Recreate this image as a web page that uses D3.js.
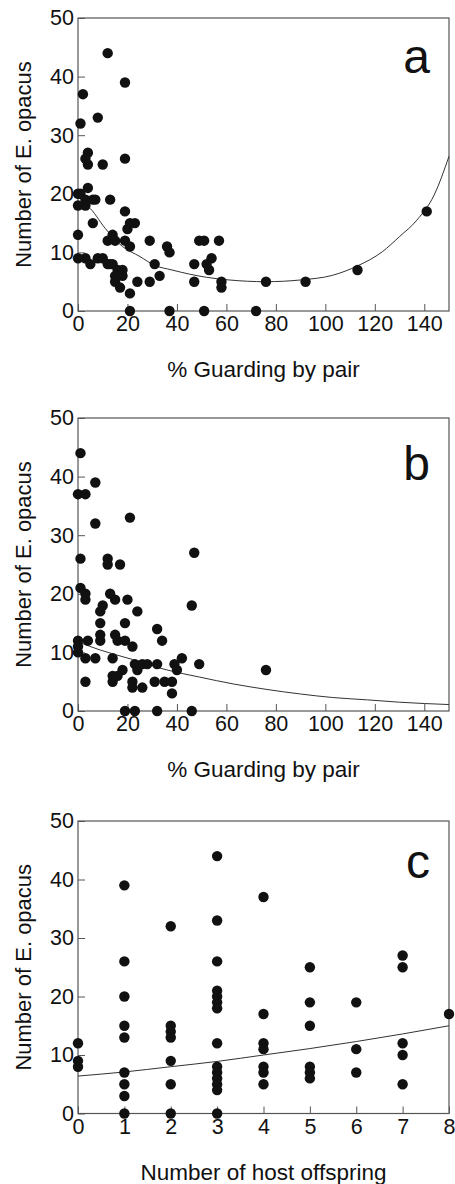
<!DOCTYPE html>
<html>
<head>
<meta charset="utf-8">
<script src="https://cdn.jsdelivr.net/npm/d3@7"></script>
<style>
  body { margin: 0; background: #fff; }
  svg text { font-family: "Liberation Sans", Arial, sans-serif; fill: #111; }
</style>
</head>
<body>
<svg width="455" height="1184"></svg>
<script>
// panel a: % guarding vs number of E. opacus
var guardA = [12,19,2,8,1,4,3,19,4,10,4,0,1,3,6,7,13,0,3,19,23,21,20,6,0,14,12,15,19,21,29,36,37,49,51,57,54,52,53,47,47,58,58,76,92,113,141,31,33,29,24,21,17,15,0,3,5,8,10,12,13,14,16,18,15,18,21,37,51,72];
var opacusA = [44,39,37,33,32,27,26,26,25,25,21,20,20,19,19,19,19,18,18,17,15,15,14,15,13,13,12,12,12,11,12,11,10,12,12,12,9,8,7,8,5,5,4,5,5,7,17,8,6,5,5,3,4,5,9,9,8,9,9,8,8,8,7,7,6,6,0,0,0,0];
var fitAx = [1.5,4,11,18,25,31,38,45,52,61,76,90,103,113,123,130,137,144,150];
var fitAy = [18.2,17.8,14.1,11,9.3,7.8,7,6.3,5.75,5.3,5.0,5.3,6.1,7.7,10.1,12.7,15.5,19.8,26.4];

// panel b
var guardB = [1,7,0,3,7,21,1,12,12,17,47,1,3,3,13,15,20,46,10,9,24,9,19,32,34,9,9,15,16,19,22,0,4,0,0,3,7,14,23,26,28,32,24,39,42,40,49,18,16,14,14,3,22,22,26,31,35,38,38,19,23,32,46,76];
var opacusB = [44,39,37,37,32,33,26,26,25,25,27,21,20,19,20,19,19,18,18,17,17,15,15,14,12,13,12,13,12,12,11,12,12,11,10,9,9,9,8,8,8,8,7,8,9,7,8,7,6,6,5,5,5,4,4,5,5,5,3,0,0,0,0,7];
var fitBx = [0,9,22,36,49,63,76,90,103,117,130,150];
var fitBy = [11.8,10.4,8.8,7,5.8,4.6,3.7,2.9,2.3,1.9,1.5,1.1];

// panel c: host offspring
var hostC = [0,0,0, 1,1,1,1,1,1,1,1,1, 2,2,2,2,2,2,2, 3,3,3,3,3,3,3,3,3,3,3,3,3,3, 4,4,4,4,4,4,4, 5,5,5,5,5,5, 6,6,6, 7,7,7,7,7, 8];
var opacusC = [12,9,8, 39,26,20,15,13,7,5,3,0, 32,15,14,13,9,5,0, 44,33,26,21,20,19,18,12,8,7,6,5,4,0, 37,17,12,11,8,7,5, 25,19,15,8,7,6, 19,11,7, 27,25,12,10,5, 17];
var fitCx = [0,1,2,3,4,5,6,7,8];
var fitCy = [6.4,7.1,8.0,8.9,10,11.1,12.3,13.6,15];

var yTicks = [0,10,20,30,40,50];
var guardTicks = [0,20,40,60,80,100,120,140];
var hostTicks = [0,1,2,3,4,5,6,7,8];

var svg = d3.select("svg");
var left = 78, right = 449;

function panel(top, bottom, xs, ys, fx, fy, xMax, xTicks, letter, letterDy, xLabel) {
  var xScale = d3.scaleLinear().domain([0, xMax]).range([left, right]);
  var yScale = d3.scaleLinear().domain([0, 50]).range([bottom, top]);
  var g = svg.append("g");

  g.append("rect").attr("x", left).attr("y", top)
    .attr("width", right - left).attr("height", bottom - top)
    .attr("fill", "none").attr("stroke", "#555").attr("stroke-width", 1.2);

  var xAxis = g.append("g").attr("transform", "translate(0," + bottom + ")")
    .call(d3.axisBottom(xScale).tickValues(xTicks).tickSizeInner(-7).tickSizeOuter(0).tickPadding(5));
  var yAxis = g.append("g").attr("transform", "translate(" + left + ",0)")
    .call(d3.axisLeft(yScale).tickValues(yTicks).tickSizeInner(-7).tickSizeOuter(0).tickPadding(4));
  [xAxis, yAxis].forEach(function(a) {
    a.select(".domain").remove();
    a.selectAll("line").attr("stroke", "#555");
    a.selectAll("text").attr("font-size", 21.5).attr("fill", "#111")
      .style("font-family", "'Liberation Sans', Arial, sans-serif");
  });

  var line = d3.line().x(function(d) { return xScale(d[0]); })
    .y(function(d) { return yScale(d[1]); }).curve(d3.curveMonotoneX);
  g.append("path").datum(d3.zip(fx, fy)).attr("d", line)
    .attr("fill", "none").attr("stroke", "#333").attr("stroke-width", 1);

  g.selectAll("circle").data(d3.zip(xs, ys)).enter().append("circle")
    .attr("cx", function(d) { return xScale(d[0]); })
    .attr("cy", function(d) { return yScale(d[1]); })
    .attr("r", 5.2).attr("fill", "#111");

  g.append("text").attr("x", 430).attr("y", top + letterDy)
    .attr("text-anchor", "end").attr("font-size", 48).text(letter);

  g.append("text").attr("x", (left + right) / 2).attr("y", bottom + 66)
    .attr("text-anchor", "middle").attr("font-size", 22.5).text(xLabel);

  g.append("text").attr("transform", "translate(31," + (top + bottom) / 2 + ") rotate(-90)")
    .attr("text-anchor", "middle").attr("font-size", 22).text("Number of E. opacus");
}

panel(18, 311, guardA, opacusA, fitAx, fitAy, 150, guardTicks, "a", 55, "% Guarding by pair");
panel(418, 711, guardB, opacusB, fitBx, fitBy, 150, guardTicks, "b", 62, "% Guarding by pair");
panel(821, 1113.5, hostC, opacusC, fitCx, fitCy, 8, hostTicks, "c", 57, "Number of host offspring");
</script>
</body>
</html>
